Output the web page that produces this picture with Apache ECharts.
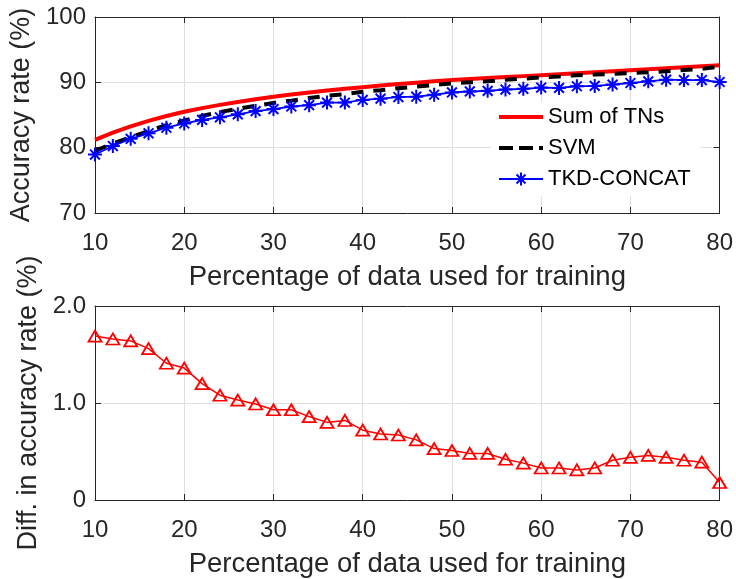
<!DOCTYPE html>
<html>
<head>
<meta charset="utf-8">
<script src="https://cdn.jsdelivr.net/npm/echarts@6/dist/echarts.min.js"></script>
<style>
html,body{margin:0;padding:0;background:#fff;}
#chart{width:736px;height:579px;}
</style>
</head>
<body>
<div id="chart"></div>
<script>
// ---- data ----
const trainPct = [10,12,14,16,18,20,22,24,26,28,30,32,34,36,38,40,42,44,46,48,50,52,54,56,58,60,62,64,66,68,70,72,74,76,78,80];
const sumOfTNs = [81.2,82.3,83.25,84.1,84.85,85.5,86.05,86.55,87.0,87.4,87.8,88.15,88.45,88.75,89.0,89.25,89.5,89.75,89.95,90.15,90.35,90.5,90.65,90.8,90.95,91.1,91.25,91.4,91.55,91.7,91.85,92.0,92.15,92.3,92.45,92.6];
const svm = [79.5,80.65,81.6,82.55,83.45,84.15,84.85,85.45,85.95,86.4,86.85,87.2,87.6,87.95,88.2,88.55,88.8,89.1,89.35,89.6,89.85,90.0,90.15,90.4,90.55,90.75,90.9,91.1,91.2,91.3,91.4,91.55,91.7,91.9,92.05,92.4];
const tkdConcat = [78.95,80.25,81.35,82.2,83.05,83.7,84.25,84.65,85.1,85.6,85.9,86.3,86.5,86.9,86.9,87.3,87.5,87.75,87.8,88.1,88.45,88.6,88.7,88.9,89.0,89.2,89.15,89.4,89.45,89.65,89.9,90.15,90.4,90.35,90.35,90.05];
const diffAcc = [1.69,1.66,1.64,1.56,1.41,1.36,1.20,1.08,1.03,0.99,0.93,0.93,0.86,0.80,0.82,0.72,0.68,0.67,0.62,0.53,0.51,0.48,0.48,0.42,0.38,0.33,0.33,0.31,0.33,0.41,0.44,0.46,0.44,0.41,0.39,0.18];
const seriesNames = ['Sum of TNs','SVM','TKD-CONCAT'];
const xTickValues = [10,20,30,40,50,60,70,80];
const topYTicks = {70:'70',80:'80',90:'90',100:'100'};
const bottomYTicks = {0:'0',1:'1.0',2:'2.0'};
const xLabel = 'Percentage of data used for training';
const topYLabel = 'Accuracy rate (%)';
const bottomYLabel = 'Diff. in accuracy rate (%)';

// ---- styling ----
const FONT = '"Liberation Sans", Arial, Helvetica, sans-serif';
const AX = '#262626';
const GRIDC = '#dfdfdf';
const pairs = ys => trainPct.map((x,i)=>[x, ys[i]]);
const starPath = 'path://M0,-6L0,6M-6,0L6,0M-4.2,-4.2L4.2,4.2M-4.2,4.2L4.2,-4.2';

function xAxes(gridIndex){
  const base = {
    type:'value', gridIndex, min:xTickValues[0], max:xTickValues[xTickValues.length-1], interval:10,
    axisLine:{show:true, onZero:false, lineStyle:{color:AX, width:1}},
    axisTick:{show:true, inside:true, length:6, lineStyle:{color:AX, width:1}},
  };
  return [
    Object.assign({}, base, {
      position:'bottom',
      axisLabel:{show:true, color:AX, fontFamily:FONT, fontSize:24, margin:18},
      splitLine:{show:true, lineStyle:{color:GRIDC, width:1}},
      name:xLabel, nameLocation:'middle', nameGap:50,
      nameTextStyle:{color:AX, fontFamily:FONT, fontSize:27.5}
    }),
    Object.assign({}, base, {
      position:'top', axisLabel:{show:false}, splitLine:{show:false}
    })
  ];
}
function yAxes(gridIndex, min, max, interval, labels, name, nameGap){
  const base = {
    type:'value', gridIndex, min, max, interval,
    axisLine:{show:true, onZero:false, lineStyle:{color:AX, width:1}},
    axisTick:{show:true, inside:true, length:6, lineStyle:{color:AX, width:1}},
  };
  return [
    Object.assign({}, base, {
      position:'left',
      axisLabel:{show:true, color:AX, fontFamily:FONT, fontSize:24, margin:9,
        formatter: v => labels[v] !== undefined ? labels[v] : ''},
      splitLine:{show:true, lineStyle:{color:GRIDC, width:1}},
      name, nameLocation:'middle', nameGap, nameRotate:90,
      nameTextStyle:{color:AX, fontFamily:FONT, fontSize:27}
    }),
    Object.assign({}, base, {
      position:'right', axisLabel:{show:false}, splitLine:{show:false}
    })
  ];
}

const chart = echarts.init(document.getElementById('chart'), null, {renderer:'canvas'});
const option = {
  animation:false,
  backgroundColor:'#fff',
  grid:[
    {left:95, right:15, top:17, height:196, containLabel:false},
    {left:95, right:15, top:306, height:195, containLabel:false}
  ],
  xAxis:[...xAxes(0), ...xAxes(1)],
  yAxis:[
    ...yAxes(0, 70, 100, 10, topYTicks, topYLabel, 56),
    ...yAxes(1, 0, 2, 1, bottomYTicks, bottomYLabel, 51)
  ],
  legend:{
    data:[
      {name:seriesNames[0], itemStyle:{opacity:0}, lineStyle:{width:4, color:'#ff0000'}},
      {name:seriesNames[1], itemStyle:{opacity:0}, lineStyle:{width:4, color:'#000000', type:[14,6]}},
      {name:seriesNames[2], lineStyle:{width:1.8, color:'#0000ff'}}
    ],
    orient:'vertical',
    left:491, top:102,
    itemWidth:44, itemHeight:16, itemGap:9,
    padding:[4,10,6,6],
    backgroundColor:'#fff',
    borderWidth:0,
    textStyle:{color:'#000', fontFamily:FONT, fontSize:22, lineHeight:22, padding:[0,0,0,0]}
  },
  series:[
    {name:seriesNames[0], type:'line', xAxisIndex:0, yAxisIndex:0, data:pairs(sumOfTNs),
      showSymbol:false, symbol:'none', lineStyle:{color:'#ff0000', width:4}, itemStyle:{color:'#ff0000'}},
    {name:seriesNames[1], type:'line', xAxisIndex:0, yAxisIndex:0, data:pairs(svm),
      showSymbol:false, symbol:'none', lineStyle:{color:'#000000', width:4, type:[12,10]}, itemStyle:{color:'#000000'}},
    {name:seriesNames[2], type:'line', xAxisIndex:0, yAxisIndex:0, data:pairs(tkdConcat),
      symbol:starPath, symbolSize:14, showAllSymbol:true,
      lineStyle:{color:'#0000ff', width:1.8},
      itemStyle:{color:'#0000ff', borderColor:'#0000ff', borderWidth:2}},
    {name:'Diff', type:'line', xAxisIndex:2, yAxisIndex:2, data:pairs(diffAcc),
      symbol:'triangle', symbolSize:[13,11], showAllSymbol:true,
      lineStyle:{color:'#ff0000', width:1.5},
      itemStyle:{color:'rgba(255,255,255,0)', borderColor:'#ff0000', borderWidth:1.8}}
  ]
};
chart.setOption(option);
</script>
</body>
</html>
